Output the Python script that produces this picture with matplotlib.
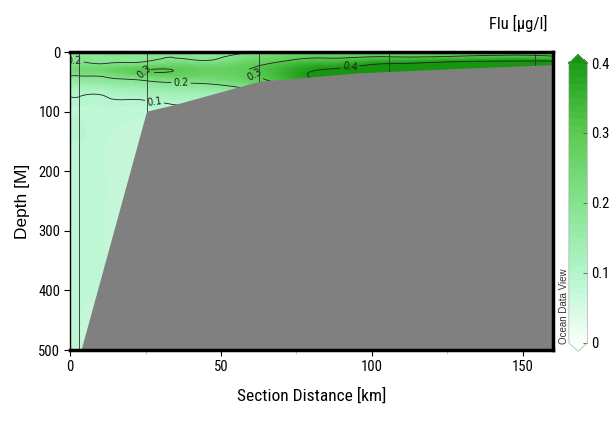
import numpy as np
import matplotlib
matplotlib.use('Agg')
import matplotlib.pyplot as plt
import matplotlib.tri as mtri
from matplotlib import font_manager
from matplotlib.colors import LinearSegmentedColormap

# section stations (km) and depth levels (m)
dist = [0, 3, 12, 25, 42, 62, 85, 106, 130, 160]
depth = [0, 8, 16, 24, 32, 40, 48, 60, 75, 90, 110, 150, 250, 350, 500]

# fluorescence values [ug/l], one row per depth level
flu = [
    [0.17, 0.17, 0.18, 0.18, 0.18, 0.20, 0.24, 0.26, 0.27, 0.28],
    [0.19, 0.19, 0.19, 0.19, 0.19, 0.24, 0.29, 0.30, 0.31, 0.31],
    [0.20, 0.20, 0.19, 0.20, 0.21, 0.27, 0.33, 0.37, 0.40, 0.41],
    [0.22, 0.23, 0.23, 0.26, 0.26, 0.30, 0.38, 0.43, 0.45, 0.46],
    [0.23, 0.24, 0.25, 0.302, 0.28, 0.31, 0.41, 0.45, 0.46, 0.47],
    [0.20, 0.20, 0.21, 0.25, 0.26, 0.30, 0.42, 0.45, 0.46, 0.47],
    [0.16, 0.17, 0.18, 0.20, 0.22, 0.28, 0.40, 0.44, 0.45, 0.46],
    [0.12, 0.12, 0.13, 0.15, 0.17, 0.22, 0.35, 0.40, 0.42, 0.43],
    [0.10, 0.10, 0.10, 0.11, 0.12, 0.16, 0.25, 0.30, 0.32, 0.33],
    [0.09, 0.09, 0.09, 0.09, 0.10, 0.12, 0.18, 0.22, 0.24, 0.25],
    [0.09, 0.09, 0.085, 0.08, 0.08, 0.09, 0.12, 0.15, 0.16, 0.17],
    [0.09, 0.09, 0.08, 0.075, 0.07, 0.07, 0.08, 0.09, 0.10, 0.10],
    [0.09, 0.085, 0.08, 0.07, 0.07, 0.07, 0.07, 0.07, 0.07, 0.07],
    [0.085, 0.085, 0.08, 0.07, 0.07, 0.07, 0.07, 0.07, 0.07, 0.07],
    [0.085, 0.08, 0.075, 0.07, 0.07, 0.07, 0.07, 0.07, 0.07, 0.07],
]

# bottom topography
bot_dist = [3.8, 25.5, 34, 62.7, 95, 130, 160]
bot_depth = [500, 100, 90, 50, 36, 28, 22]

# station positions and cast depths
sta_dist = [3, 25.5, 62.5, 105.6, 154]
sta_depth = [500, 100, 50, 37, 23]


def pick_font(names):
    for n in names:
        try:
            font_manager.findfont(n, fallback_to_default=False)
            return n
        except Exception:
            pass
    return 'DejaVu Sans'


narrow = pick_font(['Liberation Sans Narrow', 'Roboto Condensed', 'Liberation Sans'])
regular = pick_font(['Liberation Sans', 'Arial', 'DejaVu Sans'])

cmap = LinearSegmentedColormap.from_list('odv_green', [
    (0.00, '#f8fff8'),
    (0.25, '#b2f5cc'),
    (0.50, '#84e38e'),
    (0.75, '#5ccb52'),
    (1.00, '#1c9c16'),
])
cmap.set_over('#16960f')
cmap.set_under('#f8fff8')

fig = plt.figure(figsize=(6.15, 4.3), dpi=100)
ax = fig.add_axes([0.114, 0.186, 0.785, 0.693])

# smooth gridding of the section (like ODV's DIVA view)
X, Z = np.meshgrid(dist, depth)
V = np.array(flu)
tri = mtri.Triangulation(X.ravel(), Z.ravel())
refiner = mtri.UniformTriRefiner(tri)
tri_f, V_f = refiner.refine_field(V.ravel(), subdiv=3)

cf = ax.tricontourf(tri_f, V_f, levels=np.linspace(0, 0.4, 41), cmap=cmap, extend='both')
cs = ax.tricontour(tri_f, V_f, levels=[0.1, 0.2, 0.3, 0.4], colors='#202020', linewidths=0.6)
ax.clabel(cs, fmt='%.1f', fontsize=7, inline=True, inline_spacing=2)

for sx, sd in zip(sta_dist, sta_depth):
    ax.plot([sx, sx], [0, sd], color='#303030', lw=0.6, zorder=3)

ax.fill(bot_dist + [160, 3.8], bot_depth + [500, 500], color='#808080', zorder=4, lw=0)

ax.set_xlim(0, 160)
ax.set_ylim(500, 0)
ax.set_xticks([0, 50, 100, 150])
ax.set_xticks([25, 75, 125], minor=True)
ax.set_yticks([0, 100, 200, 300, 400, 500])
ax.tick_params(axis='both', direction='out', length=4, width=0.8, labelsize=10.5, pad=3)
ax.tick_params(axis='x', which='minor', length=3, width=0.5, color='#aaaaaa')
for lab in ax.get_xticklabels() + ax.get_yticklabels():
    lab.set_fontfamily(narrow)

for s in ['top', 'bottom', 'right']:
    ax.spines[s].set_linewidth(2.5)
    ax.spines[s].set_zorder(6)
ax.spines['left'].set_linewidth(1.0)

ax.set_xlabel('Section Distance [km]', fontfamily=narrow, fontsize=12.5, labelpad=10)
ax.set_ylabel('Depth [M]', fontfamily=regular, fontsize=12.5, labelpad=6)

ax.text(1.012, 0.02, 'Ocean Data View', transform=ax.transAxes, rotation=90,
        fontsize=7, fontfamily=regular, color='#333333', ha='left', va='bottom')

cax = fig.add_axes([0.925, 0.183, 0.030, 0.690])
cb = fig.colorbar(cf, cax=cax, extend='both', extendfrac=0.03)
cb.set_ticks([0, 0.1, 0.2, 0.3, 0.4])
cb.set_ticklabels(['0', '0.1', '0.2', '0.3', '0.4'])
cb.ax.tick_params(direction='in', length=3, width=0.6, color='#555555', labelsize=10.5, pad=3)
for lab in cb.ax.get_yticklabels():
    lab.set_fontfamily(narrow)
cb.outline.set_linewidth(0.4)
cb.outline.set_edgecolor('#999999')

fig.text(0.842, 0.945, 'Flu [µg/l]', fontfamily=narrow, fontsize=12, ha='center', va='center')

fig.savefig('out.png', dpi=100)
